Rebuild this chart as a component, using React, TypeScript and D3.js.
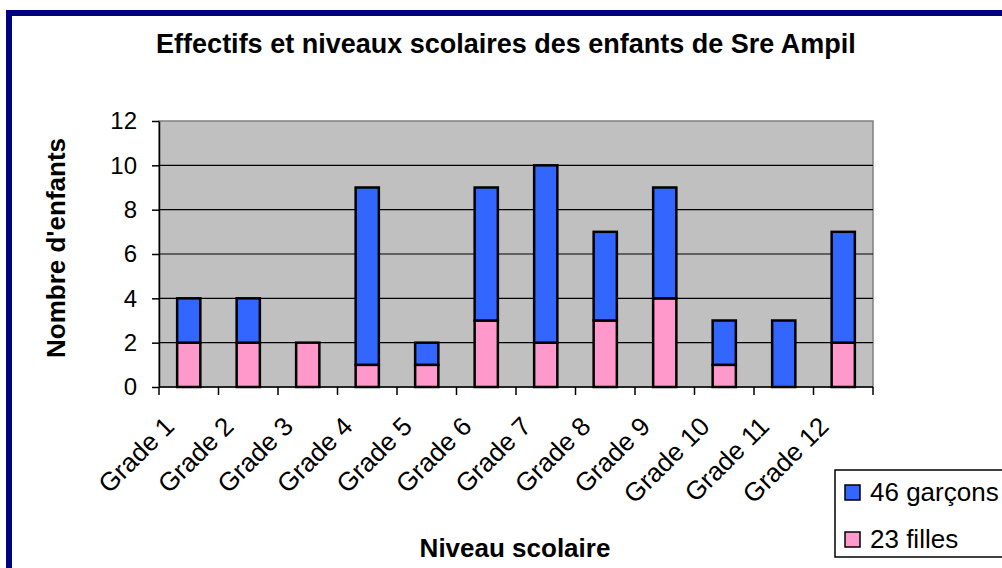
import { useEffect, useRef } from "react";
import * as d3 from "d3";

const grades = [
  "Grade 1", "Grade 2", "Grade 3", "Grade 4", "Grade 5", "Grade 6",
  "Grade 7", "Grade 8", "Grade 9", "Grade 10", "Grade 11", "Grade 12",
];
const filles = [2, 2, 2, 1, 1, 3, 2, 3, 4, 1, 0, 2];
const garcons = [2, 2, 0, 8, 1, 6, 8, 4, 5, 2, 3, 5];
const yTicks = [0, 2, 4, 6, 8, 10, 12];
const seriesNames = ["46 garçons", "23 filles"];
const seriesColors = ["#3366ff", "#ff99cc"];

const FONT = "'Liberation Sans', Arial, sans-serif";

export default function App() {
  const svgRef = useRef<SVGSVGElement | null>(null);

  useEffect(() => {
    const width = 1002;
    const height = 568;
    const svg = d3.select(svgRef.current);
    svg.selectAll("*").remove(); // clean before drawing

    svg.attr("width", width).attr("height", height);

    svg.append("rect").attr("width", width).attr("height", height).attr("fill", "#ffffff");

    // navy frame of the chart object
    svg
      .append("rect")
      .attr("x", 9)
      .attr("y", 13)
      .attr("width", 1100)
      .attr("height", 700)
      .attr("fill", "none")
      .attr("stroke", "#000080")
      .attr("stroke-width", 6);

    const plot = { left: 159, right: 873, top: 121, bottom: 387 };

    const x = d3
      .scaleBand<string>()
      .domain(grades)
      .range([plot.left, plot.right])
      .paddingInner(0.61)
      .paddingOuter(0.305);

    const y = d3.scaleLinear().domain([0, 12]).range([plot.bottom, plot.top]);

    // plot area
    svg
      .append("rect")
      .attr("x", plot.left)
      .attr("y", plot.top)
      .attr("width", plot.right - plot.left)
      .attr("height", plot.bottom - plot.top)
      .attr("fill", "#c0c0c0")
      .attr("stroke", "#808080")
      .attr("stroke-width", 1.5);

    // gridlines
    svg
      .append("g")
      .selectAll("line")
      .data(yTicks.filter((t) => t > 0 && t < 12))
      .join("line")
      .attr("x1", plot.left)
      .attr("x2", plot.right)
      .attr("y1", (d) => y(d))
      .attr("y2", (d) => y(d))
      .attr("stroke", "#000")
      .attr("stroke-width", 1.2);

    // stacked bars
    const stacked = grades.map((g, i) => ({ g, f: filles[i], b: garcons[i] }));
    const bars = svg.append("g");
    bars
      .selectAll("rect.f")
      .data(stacked.filter((d) => d.f > 0))
      .join("rect")
      .attr("class", "f")
      .attr("x", (d) => x(d.g)!)
      .attr("width", x.bandwidth())
      .attr("y", (d) => y(d.f))
      .attr("height", (d) => y(0) - y(d.f))
      .attr("fill", seriesColors[1])
      .attr("stroke", "#000")
      .attr("stroke-width", 2.5);
    bars
      .selectAll("rect.b")
      .data(stacked.filter((d) => d.b > 0))
      .join("rect")
      .attr("class", "b")
      .attr("x", (d) => x(d.g)!)
      .attr("width", x.bandwidth())
      .attr("y", (d) => y(d.f + d.b))
      .attr("height", (d) => y(d.f) - y(d.f + d.b))
      .attr("fill", seriesColors[0])
      .attr("stroke", "#000")
      .attr("stroke-width", 2.5);

    // y axis
    const yAxis = svg
      .append("g")
      .attr("transform", `translate(${plot.left},0)`)
      .call(d3.axisLeft(y).tickValues(yTicks).tickSize(7).tickPadding(15).tickSizeOuter(0));
    yAxis.select(".domain").attr("stroke", "#000").attr("stroke-width", 1.5);
    yAxis.selectAll(".tick line").attr("stroke", "#000").attr("stroke-width", 1.5);
    yAxis
      .selectAll(".tick text")
      .attr("font-family", FONT)
      .attr("font-size", 24)
      .attr("fill", "#000");

    // x axis line and ticks at category boundaries
    svg
      .append("line")
      .attr("x1", plot.left)
      .attr("x2", plot.right)
      .attr("y1", plot.bottom)
      .attr("y2", plot.bottom)
      .attr("stroke", "#000")
      .attr("stroke-width", 1.5);
    const step = x.step();
    svg
      .append("g")
      .selectAll("line")
      .data(d3.range(grades.length + 1))
      .join("line")
      .attr("x1", (i) => plot.left + i * step)
      .attr("x2", (i) => plot.left + i * step)
      .attr("y1", plot.bottom)
      .attr("y2", plot.bottom + 8)
      .attr("stroke", "#000")
      .attr("stroke-width", 1.5);

    // rotated category labels
    svg
      .append("g")
      .selectAll("text")
      .data(grades)
      .join("text")
      .attr("transform", (d) => `translate(${x(d)! + x.bandwidth() / 2 - 13},428) rotate(-45)`)
      .attr("text-anchor", "end")
      .attr("font-family", FONT)
      .attr("font-size", 26)
      .attr("fill", "#000")
      .text((d) => d);

    // titles
    svg
      .append("text")
      .attr("x", 506)
      .attr("y", 53)
      .attr("text-anchor", "middle")
      .attr("font-family", FONT)
      .attr("font-weight", "bold")
      .attr("font-size", 27)
      .text("Effectifs et niveaux scolaires des enfants de Sre Ampil");

    svg
      .append("text")
      .attr("x", 515)
      .attr("y", 557)
      .attr("text-anchor", "middle")
      .attr("font-family", FONT)
      .attr("font-weight", "bold")
      .attr("font-size", 26)
      .text("Niveau scolaire");

    svg
      .append("text")
      .attr("transform", `translate(65,248) rotate(-90)`)
      .attr("text-anchor", "middle")
      .attr("font-family", FONT)
      .attr("font-weight", "bold")
      .attr("font-size", 26)
      .text("Nombre d'enfants");

    // legend
    const legend = svg.append("g");
    legend
      .append("rect")
      .attr("x", 835)
      .attr("y", 470)
      .attr("width", 200)
      .attr("height", 87)
      .attr("fill", "#fff")
      .attr("stroke", "#000")
      .attr("stroke-width", 1.5);
    const items = legend
      .selectAll("g")
      .data(seriesNames)
      .join("g")
      .attr("transform", (_, i) => `translate(845,${485 + i * 47})`);
    items
      .append("rect")
      .attr("width", 15)
      .attr("height", 15)
      .attr("fill", (_, i) => seriesColors[i])
      .attr("stroke", "#000")
      .attr("stroke-width", 1.5);
    items
      .append("text")
      .attr("x", 25)
      .attr("y", 16)
      .attr("font-family", FONT)
      .attr("font-size", 26)
      .attr("fill", "#000")
      .text((d) => d);
  }, []);

  return (
    <svg
      ref={svgRef}
      style={{ position: "absolute", left: 0, top: 0 }}
      role="img"
      aria-label="Effectifs et niveaux scolaires des enfants de Sre Ampil chart"
    ></svg>
  );
}
